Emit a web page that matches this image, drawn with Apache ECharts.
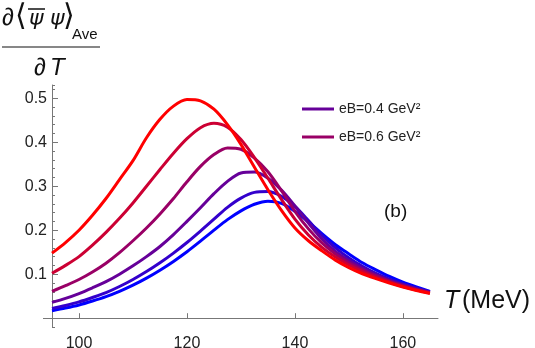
<!DOCTYPE html>
<html>
<head>
<meta charset="utf-8">
<script src="https://cdn.jsdelivr.net/npm/echarts@6/dist/echarts.min.js"></script>
<style>
  html, body { margin: 0; padding: 0; background: #fff; }
  #chart { width: 535px; height: 348px; }
</style>
</head>
<body>
<div id="chart"></div>
<script>
var temps = [95, 97.5, 100, 102.5, 105, 107.5, 110, 112.5, 115, 117.5, 120, 122.5, 125, 127.5, 130,
             132.5, 135, 137.5, 140, 142.5, 145, 147.5, 150, 152.5, 155, 157.5, 160, 162.5, 165];

var curveBlue       = [0.017, 0.023, 0.030, 0.039, 0.049, 0.061, 0.075, 0.091, 0.109, 0.129, 0.151, 0.175, 0.200, 0.224, 0.244,
                       0.259, 0.266, 0.261, 0.243, 0.219, 0.192, 0.167, 0.146, 0.126, 0.110, 0.095, 0.082, 0.071, 0.061];
var curveBlueViolet = [0.022, 0.029, 0.037, 0.047, 0.058, 0.072, 0.088, 0.106, 0.126, 0.148, 0.172, 0.198, 0.225, 0.252, 0.273,
                       0.286, 0.288, 0.277, 0.254, 0.222, 0.188, 0.160, 0.137, 0.118, 0.102, 0.089, 0.078, 0.068, 0.060];
var curveViolet     = [0.036, 0.045, 0.056, 0.069, 0.083, 0.100, 0.119, 0.140, 0.163, 0.190, 0.220, 0.251, 0.283, 0.311, 0.330,
                       0.332, 0.318, 0.291, 0.255, 0.216, 0.180, 0.152, 0.131, 0.114, 0.099, 0.086, 0.076, 0.067, 0.059];
var curvePurple     = [0.061, 0.074, 0.088, 0.105, 0.125, 0.149, 0.176, 0.205, 0.237, 0.272, 0.310, 0.345, 0.372, 0.387, 0.384,
                       0.364, 0.333, 0.290, 0.243, 0.203, 0.171, 0.146, 0.126, 0.110, 0.096, 0.084, 0.074, 0.065, 0.058];
var curveCrimson    = [0.102, 0.120, 0.140, 0.166, 0.195, 0.227, 0.262, 0.300, 0.338, 0.375, 0.408, 0.433, 0.443, 0.434, 0.406,
                       0.365, 0.318, 0.270, 0.225, 0.189, 0.161, 0.139, 0.121, 0.106, 0.093, 0.082, 0.072, 0.064, 0.057];
var curveRed        = [0.148, 0.172, 0.200, 0.234, 0.272, 0.315, 0.358, 0.410, 0.452, 0.482, 0.497, 0.494, 0.475, 0.440, 0.395,
                       0.343, 0.292, 0.245, 0.205, 0.176, 0.153, 0.132, 0.115, 0.101, 0.090, 0.080, 0.071, 0.063, 0.056];

var names  = ['eB=0 GeV²', 'eB=0.2 GeV²', 'eB=0.4 GeV²', 'eB=0.6 GeV²', 'eB=0.8 GeV²', 'eB=1.0 GeV²'];
var colors = ['#0000ff', '#3300cc', '#660099', '#990066', '#cc0033', '#ff0000'];
var curves = [curveBlue, curveBlueViolet, curveViolet, curvePurple, curveCrimson, curveRed];

var xTicks = [100, 120, 140, 160];
var yTicks = [0.1, 0.2, 0.3, 0.4, 0.5];

var chart = echarts.init(document.getElementById('chart'));

var series = curves.map(function (vals, i) {
    return {
        name: names[i],
        type: 'line',
        smooth: 0.3,
        showSymbol: false,
        silent: true,
        lineStyle: { width: 3, color: colors[i] },
        itemStyle: { color: colors[i] },
        data: temps.map(function (t, j) { return [t, vals[j]]; })
    };
});

var font = 'Liberation Sans, Arial, sans-serif';

var option = {
    animation: false,
    grid: { left: 52, right: 97, top: 85, bottom: 21, containLabel: false, outerBoundsMode: 'none' },
    legend: {
        data: ['eB=0.4 GeV²', 'eB=0.6 GeV²'],
        orient: 'vertical',
        left: 297,
        top: 97,
        icon: 'rect',
        itemWidth: 32,
        itemHeight: 3,
        itemGap: 14,
        textStyle: { fontSize: 14, color: '#222', fontFamily: font }
    },
    xAxis: {
        type: 'value',
        min: 95,
        max: 166.5,
        axisLine: { lineStyle: { color: '#777', width: 1 } },
        axisTick: { inside: true, length: 5, customValues: xTicks, lineStyle: { color: '#777' } },
        axisLabel: { customValues: xTicks, fontSize: 16, color: '#222', margin: 9, fontFamily: font },
        splitLine: { show: false }
    },
    yAxis: [{
        type: 'value',
        min: -0.02,
        max: 0.53,
        axisLine: { show: true, lineStyle: { color: '#777', width: 1 } },
        axisTick: { inside: true, length: 6, customValues: yTicks, lineStyle: { color: '#777' } },
        axisLabel: {
            customValues: yTicks, fontSize: 16, color: '#222', margin: 5, fontFamily: font,
            formatter: function (v) { return v.toFixed(1); }
        },
        splitLine: { show: false }
    }, {
        type: 'value',
        min: -0.02,
        max: 0.53,
        interval: 0.02,
        position: 'left',
        axisLine: { show: false },
        axisTick: { inside: true, length: 3, lineStyle: { color: '#777' } },
        axisLabel: { show: false },
        splitLine: { show: false }
    }],
    graphic: [
        // short stub of the x axis left of the y axis
        { type: 'line', shape: { x1: 43, y1: 318.5, x2: 52, y2: 318.5 }, style: { stroke: '#777', lineWidth: 1 } },
        // y-axis title as a fraction
        { type: 'text', left: 2, top: 6, style: { text: '∂', fontSize: 24, fill: '#111', fontFamily: font } },
        { type: 'text', left: 15, top: 2, style: { text: '⟨', fontSize: 30, fill: '#111', fontFamily: 'DejaVu Sans' } },
        { type: 'text', left: 29, top: 8, style: { text: 'ψ', fontSize: 22, fontStyle: 'italic', fill: '#111', fontFamily: 'DejaVu Sans' } },
        { type: 'line', shape: { x1: 28, y1: 9, x2: 45, y2: 9 }, style: { stroke: '#111', lineWidth: 1.5 } },
        { type: 'text', left: 50, top: 8, style: { text: 'ψ', fontSize: 22, fontStyle: 'italic', fill: '#111', fontFamily: 'DejaVu Sans' } },
        { type: 'text', left: 63, top: 2, style: { text: '⟩', fontSize: 30, fill: '#111', fontFamily: 'DejaVu Sans' } },
        { type: 'text', left: 72, top: 27, style: { text: 'Ave', fontSize: 15, fill: '#111', fontFamily: font } },
        { type: 'line', shape: { x1: 2, y1: 47, x2: 100, y2: 47 }, style: { stroke: '#111', lineWidth: 1.2 } },
        { type: 'text', left: 34, top: 56, style: { text: '∂', fontSize: 24, fill: '#111', fontFamily: font } },
        { type: 'text', left: 50, top: 56, style: { text: 'T', fontSize: 24, fontStyle: 'italic', fill: '#111', fontFamily: font } },
        // x-axis title
        { type: 'text', left: 444, top: 289, style: { text: 'T', fontSize: 25, fontStyle: 'italic', fill: '#111', fontFamily: font } },
        { type: 'text', left: 462, top: 289, style: { text: '(MeV)', fontSize: 25, fill: '#111', fontFamily: font } },
        // panel label
        { type: 'text', left: 384, top: 202, style: { text: '(b)', fontSize: 19, fill: '#111', fontFamily: font } }
    ],
    series: series
};

chart.setOption(option);
</script>
</body>
</html>
